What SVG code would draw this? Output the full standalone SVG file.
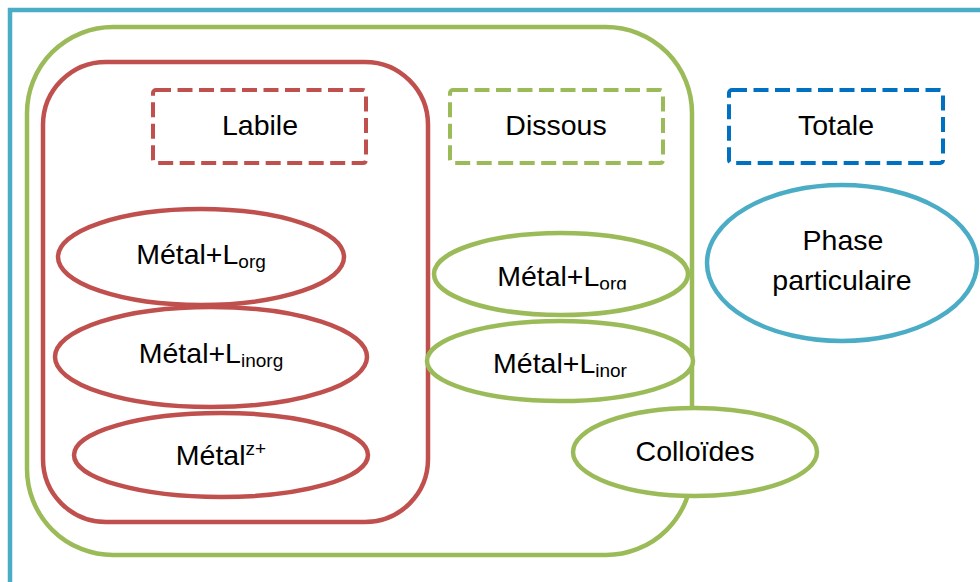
<svg xmlns="http://www.w3.org/2000/svg" width="980" height="582" viewBox="0 0 980 582">
<style>
.t{font-family:"Liberation Sans",Arial,sans-serif;font-size:28.5px;fill:#000;text-anchor:middle}
.s{font-size:19px}
.red{fill:none;stroke:#C0504D;stroke-width:4.5}
.grn{fill:none;stroke:#9BBB59;stroke-width:4.5}
.blu{fill:none;stroke:#4BACC6;stroke-width:4.5}
.ell{fill:#fff}
.dash{fill:none;stroke-width:4;stroke-dasharray:15 6.5}
</style>
<defs>
<clipPath id="cl1"><rect x="430" y="230" width="260" height="59.5"/></clipPath>
</defs>
<rect width="980" height="582" fill="#fff"/>
<g id="frame"><rect class="blu" x="10" y="10" width="1000" height="600"/></g>
<g id="dissous-zone"><rect class="grn" x="27" y="27" width="665" height="528" rx="86" ry="86"/></g>
<g id="labile-zone"><rect class="red" x="43" y="62" width="385" height="460" rx="63" ry="63"/></g>
<g id="labile"><rect class="dash" stroke="#C0504D" x="153" y="90" width="213" height="73" rx="3"/><text class="t" x="260" y="135">Labile</text></g>
<g id="dissous"><rect class="dash" stroke="#9BBB59" x="450" y="90" width="213" height="73" rx="3"/><text class="t" x="556" y="135">Dissous</text></g>
<g id="totale"><rect class="dash" stroke="#0070C0" x="729" y="90" width="214" height="73" rx="3"/><text class="t" x="836" y="135">Totale</text></g>
<g id="phase"><ellipse class="blu ell" cx="842" cy="263" rx="135" ry="78"/><text class="t" x="843" y="250">Phase</text><text class="t" x="842" y="290">particulaire</text></g>
<g id="r-org"><ellipse class="red ell" cx="201" cy="257" rx="143" ry="48"/><text class="t" x="201" y="264">Métal+L<tspan class="s" dy="4">org</tspan></text></g>
<g id="r-inorg"><ellipse class="red ell" cx="211" cy="357" rx="156" ry="50"/><text class="t" x="211" y="363">Métal+L<tspan class="s" dy="4">inorg</tspan></text></g>
<g id="r-ion"><ellipse class="red ell" cx="221" cy="455" rx="147" ry="42"/><text class="t" x="221" y="465">Métal<tspan class="s" dy="-10">z+</tspan></text></g>
<g id="g-org"><ellipse class="grn ell" cx="561" cy="274" rx="127" ry="41"/><text class="t" x="562" y="286" clip-path="url(#cl1)">Métal+L<tspan class="s" dy="4">org</tspan></text></g>
<g id="g-inor"><ellipse class="grn ell" cx="560" cy="361" rx="133" ry="40"/><text class="t" x="560" y="373">Métal+L<tspan class="s" dy="4">inor</tspan></text></g>
<g id="colloides"><ellipse class="grn ell" cx="695" cy="452" rx="122" ry="44"/><text class="t" x="695" y="461">Colloïdes</text></g>
<g id="connectors"></g>
</svg>
